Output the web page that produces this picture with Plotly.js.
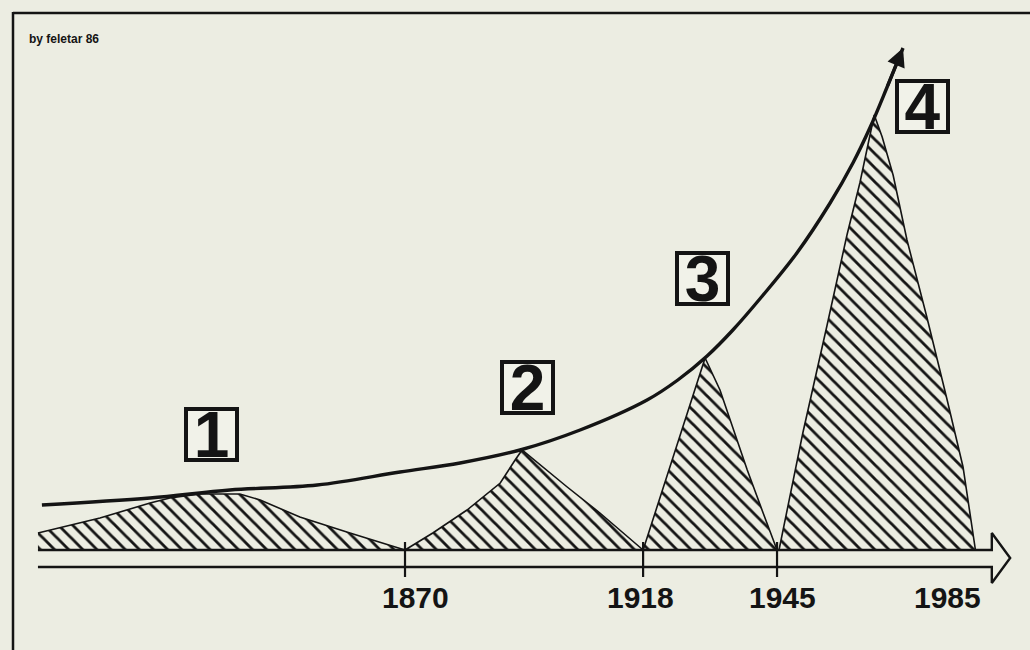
<!DOCTYPE html>
<html>
<head>
<meta charset="utf-8">
<script src="https://cdn.plot.ly/plotly-3.0.1.min.js"></script>
<style>
html,body{margin:0;padding:0;background:#ecede2;}
#chart{width:1030px;height:650px;}
</style>
</head>
<body>
<div id="chart"></div>
<script>
// ---- data (x = year, y = relative height) ----
const era1Years  = [1796, 1808.5, 1818.6, 1822.6, 1828.7, 1836.7, 1840.8, 1848.8, 1858.9, 1865.6, 1870];
const era1Values = [17, 32, 47, 52, 56, 56, 50, 33, 17, 7, 0];

const era2Years  = [1870, 1875.6, 1882.5, 1889.2, 1892.2, 1893.6, 1902.7, 1909.3, 1918];
const era2Values = [0, 17, 40, 67, 90, 100, 63, 37, 0];

const era3Years  = [1918, 1924.8, 1930.5, 1933.5, 1936.9, 1939, 1942.2, 1945];
const era3Values = [0, 105, 192, 160, 110, 80, 37, 0];

const era4Years  = [1945.4, 1950.2, 1955.1, 1959.1, 1961.7, 1963.6, 1964.6, 1966.2, 1968.4, 1971.2, 1975.2, 1979.3, 1982.5, 1985];
const era4Values = [0, 117, 225, 315, 367, 410, 435, 413, 375, 310, 233, 150, 83, 0];

const curveYears  = [1796.8, 1818.6, 1834.7, 1852.3, 1869, 1881.1, 1893.2, 1905.3, 1918.8, 1925, 1930.9, 1936.1, 1942.2, 1949.0, 1955.7, 1960.3, 1963.8, 1967.2, 1970.4];
const curveValues = [45, 52, 60, 65, 78, 87, 100, 120, 150, 170, 194, 220, 255, 297, 347, 387, 423, 463, 502];

const tickYears  = [1870, 1918, 1945, 1985];
const tickLabels = ['1870', '1918', '1945', '1985'];
const tickMarked = [true, true, true, false];

const eraLabels      = ['1', '2', '3', '4'];
const eraLabelYears  = [1831, 1894.7, 1929.9, 1974.3];
const eraLabelValues = [116, 163, 272, 444];

const timelineStart = 1796;
const timelineEnd   = 1992;
const credit = 'by feletar 86';

// ---- styling / layout constants ----
const BG = '#ecede2';
const INK = '#141414';
const tickLabelShift = [10, -3, 5, -28];

function hatchTrace(xs, ys) {
  return {
    x: xs, y: ys, type: 'scatter', mode: 'lines',
    line: {color: INK, width: 1.6, shape: 'linear'},
    fill: 'tozeroy', fillcolor: BG,
    fillpattern: {shape: '\\', size: 10, solidity: 0.28, fgcolor: INK, bgcolor: BG, fillmode: 'replace'},
    hoverinfo: 'skip', showlegend: false
  };
}

const traces = [
  hatchTrace(era1Years, era1Values),
  hatchTrace(era2Years, era2Values),
  hatchTrace(era3Years, era3Values),
  hatchTrace(era4Years, era4Values)
];

// timeline: hollow double-line arrow
const headBase = timelineEnd - 3.7;
traces.push({
  x: [timelineStart, headBase, headBase, timelineEnd, headBase, headBase, timelineStart],
  y: [0, 0, 17, -8, -33, -17, -17],
  type: 'scatter', mode: 'lines',
  line: {color: INK, width: 2.4},
  hoverinfo: 'skip', showlegend: false
});

// ticks
tickYears.forEach((yr, i) => {
  if (!tickMarked[i]) return;
  traces.push({
    x: [yr, yr], y: [8, -27], type: 'scatter', mode: 'lines',
    line: {color: INK, width: 2.2}, hoverinfo: 'skip', showlegend: false
  });
});

// growth curve
traces.push({
  x: curveYears, y: curveValues, type: 'scatter', mode: 'lines',
  line: {color: INK, width: 3.4, shape: 'spline', smoothing: 1},
  hoverinfo: 'skip', showlegend: false
});

const n = curveYears.length;
const annotations = [];
// arrow head on curve
annotations.push({
  x: curveYears[n - 1], y: curveValues[n - 1],
  ax: curveYears[n - 2], ay: curveValues[n - 2],
  xref: 'x', yref: 'y', axref: 'x', ayref: 'y',
  text: '', showarrow: true, arrowhead: 2, arrowsize: 1.15, arrowwidth: 3.2, arrowcolor: INK
});

// tick labels
tickYears.forEach((yr, i) => {
  annotations.push({
    x: yr, y: -47, xref: 'x', yref: 'y', text: tickLabels[i], showarrow: false,
    xshift: tickLabelShift[i], xanchor: 'center', yanchor: 'middle',
    font: {family: 'Liberation Sans, Arial, sans-serif', size: 30, color: INK, weight: 'bold'}
  });
});

// era number boxes
eraLabels.forEach((t, i) => {
  annotations.push({
    x: eraLabelYears[i], y: eraLabelValues[i], xref: 'x', yref: 'y',
    text: '<b>' + t + '</b>', showarrow: false,
    width: 47, height: 47, borderpad: 0, borderwidth: 4, bordercolor: INK,
    bgcolor: '#f1f2e9', align: 'center', valign: 'middle',
    font: {family: 'Liberation Sans, Arial, sans-serif', size: 64, color: INK}
  });
});

// credit
annotations.push({
  x: 27 / 1030, y: 1 - 39 / 650, xref: 'paper', yref: 'paper',
  text: credit, showarrow: false, xanchor: 'left', yanchor: 'middle',
  font: {family: 'Liberation Sans, Arial, sans-serif', size: 12, color: INK, weight: 'bold'}
});

const shapes = [
  {type: 'line', xref: 'paper', yref: 'paper', x0: 13 / 1030, x1: 1, y0: 1 - 13 / 650, y1: 1 - 13 / 650, line: {color: INK, width: 2.5}},
  {type: 'line', xref: 'paper', yref: 'paper', x0: 13 / 1030, x1: 13 / 1030, y0: 1 - 12 / 650, y1: 0, line: {color: INK, width: 2.5}}
];

const layout = {
  width: 1030, height: 650,
  margin: {l: 0, r: 0, t: 0, b: 0, pad: 0},
  paper_bgcolor: BG, plot_bgcolor: BG,
  showlegend: false,
  xaxis: {range: [1788.35, 1996.0], visible: false, fixedrange: true},
  yaxis: {range: [-100, 550], visible: false, fixedrange: true},
  annotations: annotations,
  shapes: shapes
};

Plotly.newPlot('chart', traces, layout, {staticPlot: true, displayModeBar: false});
</script>
</body>
</html>
